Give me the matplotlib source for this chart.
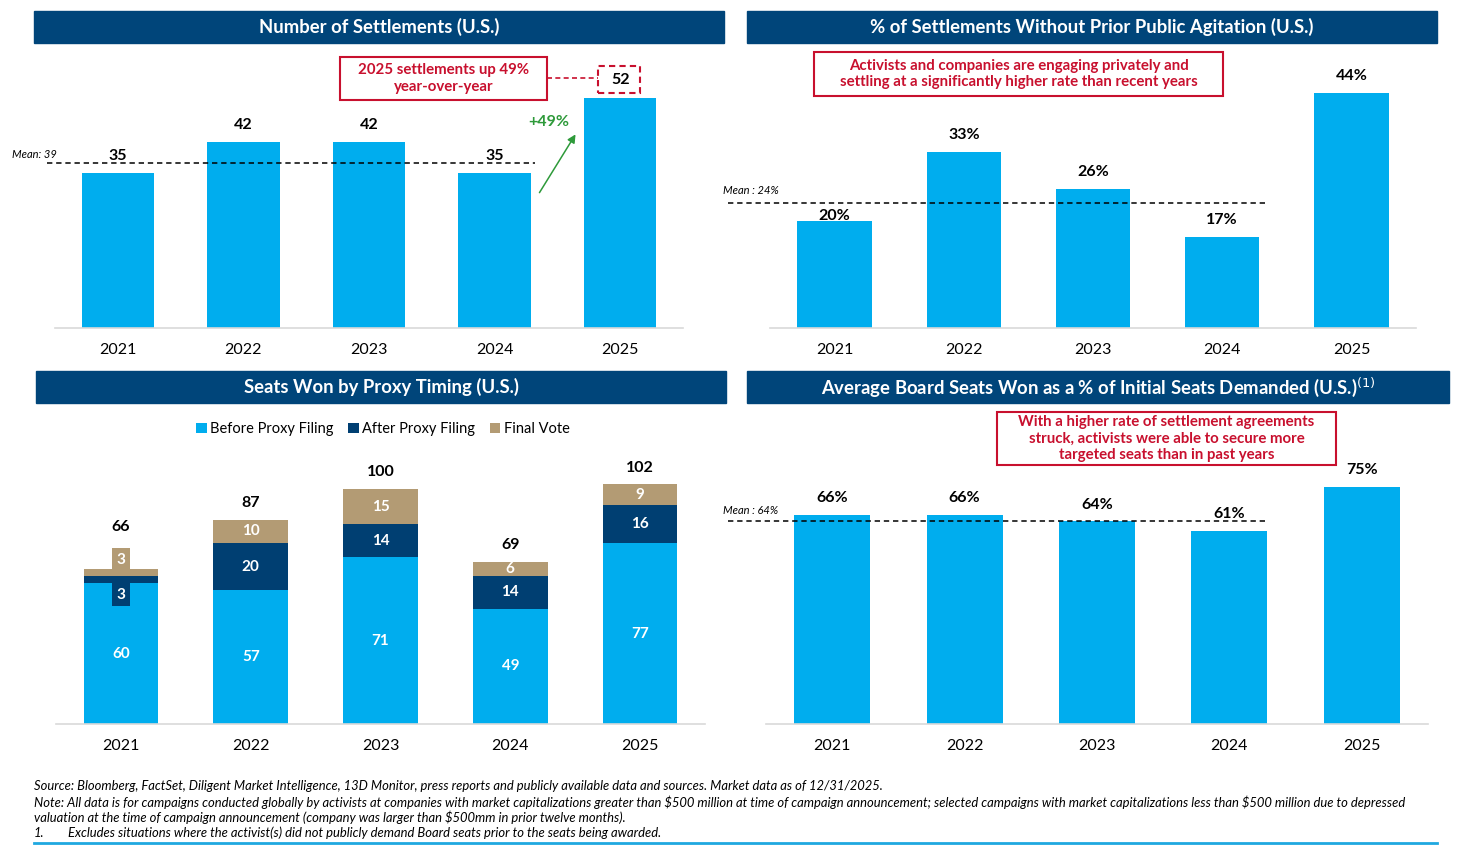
import matplotlib
matplotlib.use("Agg")
import matplotlib.pyplot as plt
from matplotlib.patches import Rectangle, FancyArrowPatch
import numpy as np

plt.rcParams['font.family'] = ['Lato', 'DejaVu Sans']

W, H = 1458, 852

# data
years = ["2021", "2022", "2023", "2024", "2025"]
settlements = [35, 42, 42, 35, 52]
settlements_mean = 39
no_agitation_pct = [20, 33, 26, 17, 44]
no_agitation_mean = 24
seats_before = [60, 57, 71, 49, 77]
seats_after = [3, 20, 14, 14, 16]
seats_final = [3, 10, 15, 6, 9]
seats_total = [66, 87, 100, 69, 102]
board_pct = [66, 66, 64, 61, 75]
board_mean = 64

BLUE = "#00ADEE"
NAVY = "#003F72"
TAN = "#B39B74"
HEAD = "#00457A"
RED = "#C8102E"
GREEN = "#2E9A3A"


def fx(x):
    return x / W


def fy(y):
    return 1 - y / H


def add_ax(fig, left, right, bottom, top):
    ax = fig.add_axes([fx(left), fy(bottom), (right - left) / W, (bottom - top) / H])
    for s in ["top", "right", "left"]:
        ax.spines[s].set_visible(False)
    ax.spines["bottom"].set_color("#D9D9D9")
    ax.spines["bottom"].set_linewidth(1.2)
    ax.set_yticks([])
    ax.set_xlim(-0.5, 4.5)
    ax.set_xticks(range(len(years)))
    ax.set_xticklabels(years, fontsize=11.5)
    ax.tick_params(axis="x", length=0, pad=11)
    return ax


def header(fig, x0, x1, y0, y1, text):
    fig.patches.append(Rectangle((fx(x0), fy(y1)), (x1 - x0) / W, (y1 - y0) / H,
                                 transform=fig.transFigure, color=HEAD, zorder=0))
    fig.text(fx((x0 + x1) / 2), fy((y0 + y1) / 2), text, color="white", fontsize=13.3,
             fontweight="bold", ha="center", va="center")


def red_box(fig, x0, x1, y0, y1, text, ls="-"):
    fig.patches.append(Rectangle((fx(x0), fy(y1)), (x1 - x0) / W, (y1 - y0) / H,
                                 transform=fig.transFigure, fill=False, ec=RED, lw=1.5,
                                 ls=ls))
    fig.text(fx((x0 + x1) / 2), fy((y0 + y1) / 2), text, color=RED, fontsize=10.8,
             fontweight="bold", ha="center", va="center", linespacing=1.2)


def bar_labels(ax, vals, fmt, offsets=None):
    for i, v in enumerate(vals):
        off = 10 if offsets is None else offsets[i]
        if off is None:
            continue
        ax.annotate(fmt.format(v), (i, v), xytext=(0, off), textcoords="offset points",
                    ha="center", va="bottom", fontsize=11.5, fontweight="bold")


fig = plt.figure(figsize=(W / 100, H / 100), dpi=100)

# ---- panel 1
header(fig, 34, 724, 11, 43, "Number of Settlements (U.S.)")
ax1 = add_ax(fig, 55, 683, 328, 50)
ax1.set_ylim(0, 278 / 4.43)
ax1.bar(range(5), settlements, width=0.575, color=BLUE)
bar_labels(ax1, settlements, "{}", [7, 7, 7, 7, None])
# dashed mean line sits just below the 35 labels, as drawn in the source
ax1.axhline(settlements_mean - 1.8, xmin=-0.013, xmax=0.764, color="black",
            ls=(0, (3.5, 2.5)), lw=1.1, clip_on=False)
fig.text(fx(12), fy(155), f"Mean: {settlements_mean}", fontsize=8, style="italic",
         va="center")
ax1.annotate(str(settlements[4]), (4, settlements[4]), xytext=(0, 13),
             textcoords="offset points", ha="center", va="center", fontsize=11.5,
             fontweight="bold")
red_box(fig, 340, 547, 57, 100, "2025 settlements up 49%\nyear-over-year")
fig.patches.append(Rectangle((fx(598), fy(93)), 42 / W, 27 / H, transform=fig.transFigure,
                             fill=False, ec=RED, lw=1.5, ls=(0, (3, 2))))
fig.lines.append(plt.Line2D([fx(547), fx(598)], [fy(78), fy(78)], transform=fig.transFigure,
                            color=RED, lw=1.2, ls=(0, (3, 2))))
fig.text(fx(549), fy(122), "+49%", color=GREEN, fontsize=11.5, fontweight="bold",
         ha="center", va="center")
fig.patches.append(FancyArrowPatch((fx(538), fy(195)), (fx(577), fy(132)),
                                   transform=fig.transFigure, arrowstyle="-|>",
                                   mutation_scale=12, color=GREEN, lw=1.1))

# ---- panel 2
header(fig, 747, 1437, 11, 43, "% of Settlements Without Prior Public Agitation (U.S.)")
ax2 = add_ax(fig, 770, 1416, 328, 50)
ax2.set_ylim(0, 278 / 5.34)
ax2.bar(range(5), no_agitation_pct, width=0.575, color=BLUE)
bar_labels(ax2, no_agitation_pct, "{}%", [-1, 7, 7, 7, 7])
ax2.axhline(no_agitation_mean - 0.6, xmin=(728 - 770) / 646, xmax=(1265 - 770) / 646,
            color="black", ls=(0, (3.5, 2.5)), lw=1.1, clip_on=False)
fig.text(fx(723), fy(191), f"Mean : {no_agitation_mean}%", fontsize=8, style="italic",
         va="center")
red_box(fig, 814, 1223, 52, 96,
        "Activists and companies are engaging privately and\n"
        "settling at a significantly higher rate than recent years")

# ---- panel 3
header(fig, 36, 726, 371, 403, "Seats Won by Proxy Timing (U.S.)")
ax3 = add_ax(fig, 56, 705, 724, 440)
ax3.set_ylim(0, 284 / 2.35)
x = np.arange(5)
b1 = ax3.bar(x, seats_before, width=0.575, color=BLUE, label="Before Proxy Filing")
b2 = ax3.bar(x, seats_after, width=0.575, bottom=seats_before, color=NAVY,
             label="After Proxy Filing")
bot3 = np.array(seats_before) + np.array(seats_after)
b3 = ax3.bar(x, seats_final, width=0.575, bottom=bot3, color=TAN, label="Final Vote")
for i in range(5):
    segs = [(seats_before[i], 0, BLUE), (seats_after[i], seats_before[i], NAVY),
            (seats_final[i], bot3[i], TAN)]
    for k, (v, b, c) in enumerate(segs):
        if v >= 5:
            ax3.text(i, b + v / 2, str(v), color="white", fontsize=11, fontweight="bold",
                     ha="center", va="center")
        else:
            dy = -11 if k == 1 else 9
            ax3.annotate(str(v), (i, b + v / 2), xytext=(0, dy), textcoords="offset points",
                         ha="center", va="center", color="white", fontsize=11,
                         fontweight="bold",
                         bbox=dict(boxstyle="square,pad=0.3", fc=c, ec="none"))
tot_off = [25, 7, 7, 7, 7]
for i, t in enumerate(seats_total):
    ax3.annotate(str(t), (i, t), xytext=(0, tot_off[i]), textcoords="offset points",
                 ha="center", va="bottom", fontsize=11.5, fontweight="bold")
fig.legend(handles=[b1, b2, b3], loc="center", bbox_to_anchor=(fx(383), fy(429)), ncol=3,
           frameon=False, fontsize=10.5, handlelength=0.7, handleheight=0.7,
           handletextpad=0.25, columnspacing=1.0)

# ---- panel 4
header(fig, 747, 1449, 371, 403,
       "Average Board Seats Won as a % of Initial Seats Demanded (U.S.)$^{(1)}$")
ax4 = add_ax(fig, 766, 1428, 724, 440)
ax4.set_ylim(0, 284 / 3.165)
ax4.bar(range(5), board_pct, width=0.575, color=BLUE)
bar_labels(ax4, board_pct, "{}%", [7, 7, 7, 7, 7])
ax4.axhline(board_mean, xmin=(728 - 766) / 662, xmax=(1265 - 766) / 662, color="black",
            ls=(0, (3.5, 2.5)), lw=1.1, clip_on=False)
fig.text(fx(723), fy(510), f"Mean : {board_mean}%", fontsize=8, style="italic", va="center")
red_box(fig, 997, 1336, 412, 465,
        "With a higher rate of settlement agreements\n"
        "struck, activists were able to secure more\n"
        "targeted seats than in past years")

# ---- footer
foot = [
    (34, 786, "Source: Bloomberg, FactSet, Diligent Market Intelligence, 13D Monitor, press reports "
              "and publicly available data and sources. Market data as of 12/31/2025."),
    (34, 802, "Note: All data is for campaigns conducted globally by activists at companies with "
              "market capitalizations greater than \\$500 million at time of campaign announcement; "
              "selected campaigns with market capitalizations less than \\$500 million due to depressed"),
    (34, 817, "valuation at the time of campaign announcement (company was larger than \\$500mm in "
              "prior twelve months)."),
    (34, 833, "1."),
    (68, 833, "Excludes situations where the activist(s) did not publicly demand Board seats prior "
              "to the seats being awarded."),
]
for xx, yy, t in foot:
    fig.text(fx(xx), fy(yy), t, fontsize=9.35, style="italic", va="center")
fig.lines.append(plt.Line2D([fx(34), fx(1437)], [fy(843), fy(843)], transform=fig.transFigure,
                            color="#1FA8E0", lw=2))

fig.savefig("out.png", dpi=100)
